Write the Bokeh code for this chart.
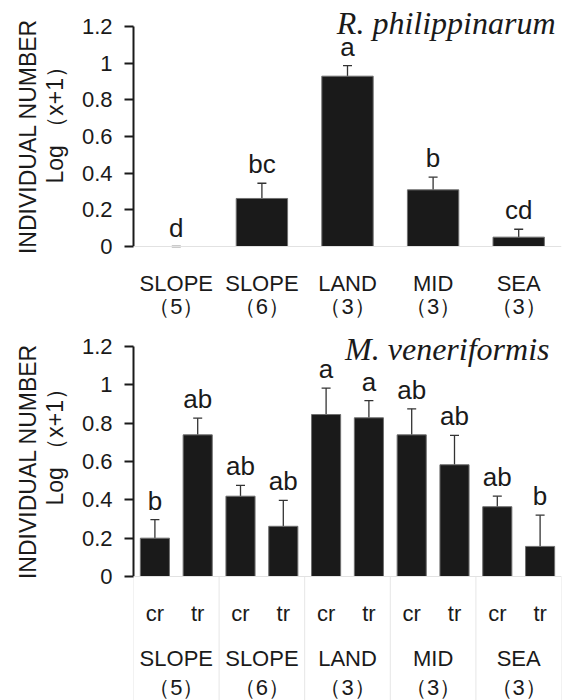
import math
from bokeh.plotting import figure
from bokeh.models import (FactorRange, Range1d, LinearAxis, FixedTicker, ColumnDataSource,
                          Whisker, TeeHead, Span, Label)
from bokeh.layouts import column, row
from bokeh.embed import file_html
from bokeh.resources import INLINE
from bokeh.core.properties import value

# ---------------- data ----------------
sites = ["SLOPE", "SLOPE", "LAND", "MID", "SEA"]
site_n = ["5", "6", "3", "3", "3"]

top_species = "R. philippinarum"
top_mean = [0.0, 0.262, 0.929, 0.309, 0.051]
top_upper = [0.0, 0.345, 0.987, 0.378, 0.094]
top_letters = ["d", "bc", "a", "b", "cd"]

bottom_species = "M. veneriformis"
treatments = ["cr", "tr"]
bot_mean = [0.200, 0.739, 0.419, 0.262, 0.845, 0.828, 0.739, 0.583, 0.364, 0.157]
bot_upper = [0.297, 0.826, 0.475, 0.397, 0.983, 0.918, 0.875, 0.736, 0.419, 0.320]
bot_letters = ["b", "ab", "ab", "ab", "a", "a", "ab", "ab", "ab", "b"]

y_ticks = [0, 0.2, 0.4, 0.6, 0.8, 1.0, 1.2]
y_tick_labels = ["0", "0.2", "0.4", "0.6", "0.8", "1", "1.2"]
y_label = "INDIVIDUAL NUMBER"
y_sublabel = "Log （x+1）"

# ---------------- style / layout ----------------
W = 565
LABEL_W = 77          # side strip holding the rotated axis titles
AXIS_W = 56           # left border of the chart holding ticks and tick labels
LEFT = LABEL_W + AXIS_W
RIGHT = 4
FRAME_W = W - LEFT - RIGHT
SANS = "Liberation Sans"
SERIF = "Liberation Serif"
INK = "#1a1a1a"
GAP_PX = 9
FIX = 10  # compensation for rendered text baseline

group_keys = [f"{s} ({n})" for s, n in zip(sites, site_n)]
n_labels = [f"（{n}）" for n in site_n]


class Panel:
    def __init__(self, x_range, nfac, H, y0px, y12px):
        self.ppu = (y0px - y12px) / 1.2
        self.H, self.y0px, self.nfac = H, y0px, nfac
        self.y_start = -(H - y0px) / self.ppu
        p = figure(width=W - LABEL_W, height=H, x_range=x_range,
                   y_range=Range1d(self.y_start, y0px / self.ppu),
                   output_backend="svg", toolbar_location=None,
                   x_axis_location=None, y_axis_location=None,
                   min_border_left=AXIS_W, min_border_right=RIGHT,
                   min_border_top=0, min_border_bottom=0,
                   outline_line_color=None, background_fill_color="white",
                   border_fill_color="white")
        for g in p.grid:
            g.visible = False
        ax = LinearAxis(ticker=FixedTicker(ticks=y_ticks), bounds=(0, 1.2),
                        major_label_overrides=dict(zip(y_ticks, y_tick_labels)),
                        axis_line_color=INK, axis_line_width=2,
                        major_tick_line_color=INK, major_tick_line_width=2,
                        major_tick_out=9, major_tick_in=0,
                        minor_tick_out=0, minor_tick_in=0,
                        major_label_standoff=12,
                        major_label_text_font=SANS, major_label_text_font_size="22px",
                        major_label_text_color=INK)
        p.add_layout(ax, "left")
        p.add_layout(Span(location=0, dimension="width", line_color="#e2e2e2", line_width=1))
        self.p = p

        # strip with the rotated axis titles (coordinates in pixels from top-left)
        s = figure(width=LABEL_W, height=H, x_range=Range1d(0, LABEL_W),
                   y_range=Range1d(H, 0), output_backend="svg", toolbar_location=None,
                   x_axis_location=None, y_axis_location=None, min_border=0,
                   outline_line_color=None, background_fill_color="white",
                   border_fill_color="white")
        for g in s.grid:
            g.visible = False
        self.s = s

    def xd(self, px):
        return (px - LEFT) / FRAME_W * self.nfac

    def yd(self, px):
        return (self.y0px - px) / self.ppu


def bars(pan, factors, mean, upper, letters, width):
    p, ppu = pan.p, pan.ppu
    src = ColumnDataSource(dict(
        x=factors, top=mean, upper=upper,
        ly=[u + (GAP_PX + FIX) / ppu for u in upper],
        letter=letters,
        la=[1.0 if m > 0 else 0.0 for m in mean],
    ))
    p.vbar(x="x", top="top", width=width, source=src, fill_color=INK,
           line_color="#6f6f6f", line_alpha="la", line_width=1)
    p.add_layout(Whisker(source=src, base="x", lower="top", upper="upper",
                         dimension="height", line_color="#333333", line_width=1.3,
                         upper_head=TeeHead(size=9, line_color="#333333", line_width=1.3),
                         lower_head=None))
    p.text(x="x", y="ly", text="letter", source=src, text_align="center",
           text_baseline="alphabetic", text_font=value(SANS), text_font_size="26px",
           text_color=INK)


def row_text(pan, xs, texts, base_px):
    pan.p.text(x=xs, y=[pan.yd(base_px - FIX)] * len(xs), text=texts, text_align="center",
               text_baseline="alphabetic", text_font=value(SANS), text_font_size="22px",
               text_color=INK)


def y_labels(pan, big_center, small_start):
    # rotated 90 degrees: baseline runs vertically, x is the baseline position
    pan.s.text(x=[37 - FIX], y=[big_center], text=[y_label], angle=math.pi / 2,
               text_align="center", text_baseline="alphabetic", text_font=value(SANS),
               text_font_size="23px", text_color=INK)
    pan.s.text(x=[64 - FIX], y=[small_start], text=[y_sublabel], angle=math.pi / 2,
               text_align="left", text_baseline="alphabetic", text_font=value(SANS),
               text_font_size="23px", text_color=INK)


def title(pan, text, right_px, base_px):
    pan.p.add_layout(Label(x=pan.xd(right_px), y=pan.yd(base_px - FIX), text=text,
                           text_align="right", text_baseline="alphabetic",
                           text_font=SERIF, text_font_style="italic", text_font_size="32px",
                           text_color=INK))


# ---------------- top panel ----------------
H1 = 330
xr1 = FactorRange(factors=group_keys, range_padding=0)
top = Panel(xr1, len(group_keys), H1, 246, 26)
bars(top, group_keys, top_mean, top_upper, top_letters, 0.6)
row_text(top, group_keys, sites, 246 + 46.7)
row_text(top, group_keys, n_labels, 246 + 70)
title(top, top_species, 555, 32)
y_labels(top, 136, 183)

# ---------------- bottom panel ----------------
H2 = 700 - H1
nested = [(g, t) for g in group_keys for t in treatments]
xr2 = FactorRange(factors=nested, range_padding=0, group_padding=0,
                  subgroup_padding=0, factor_padding=0)
bot = Panel(xr2, len(nested), H2, 576 - H1, 346 - H1)
bars(bot, nested, bot_mean, bot_upper, bot_letters, 0.68)

seps = [i * len(treatments) for i in range(len(group_keys) + 1)]
bot.p.segment(x0=seps, y0=[0] * len(seps), x1=seps, y1=[bot.y_start] * len(seps),
              line_color="#e6e6e6", line_width=1)

row_text(bot, nested, [t for _, t in nested], 576 - H1 + 46.7)
row_text(bot, group_keys, sites, 576 - H1 + 92)
row_text(bot, group_keys, n_labels, 576 - H1 + 121)
title(bot, bottom_species, 549, 358 - H1)
y_labels(bot, 461 - H1, 505 - H1)

layout = column(row(top.s, top.p, spacing=0), row(bot.s, bot.p, spacing=0), spacing=0)
open("out.html", "w").write(file_html(layout, INLINE))
